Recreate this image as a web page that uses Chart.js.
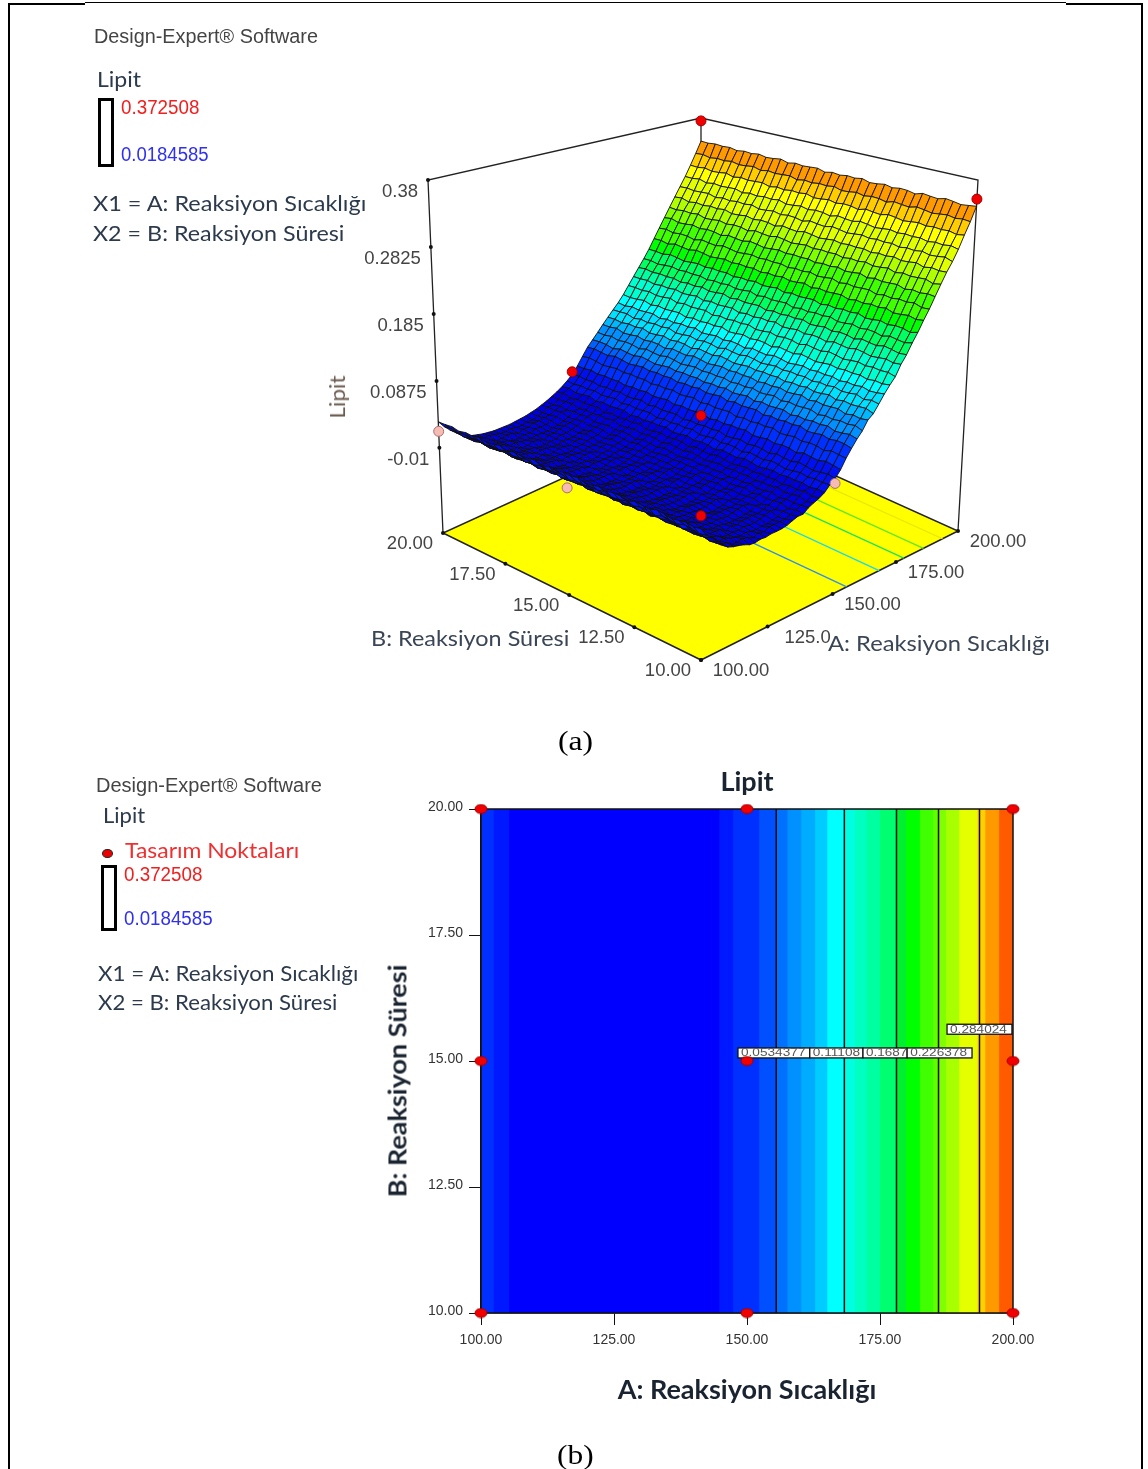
<!DOCTYPE html>
<html>
<head>
<meta charset="utf-8">
<title>Lipit</title>
<script src="https://cdn.jsdelivr.net/npm/chart.js@4"></script>
<style>
    html, body { margin: 0; padding: 0; background: #fff; }
    body { position: relative; width: 1148px; height: 1469px; overflow: hidden; }
    canvas { position: absolute; filter: blur(0.4px); }
    .edge { position: absolute; background: #000; }
    .txt { position: absolute; white-space: nowrap; line-height: 1; filter: blur(0.3px); }
    .scale-box { position: absolute; border: 3px solid #000; box-sizing: border-box; background: #fff; }
    .legend-dot { position: absolute; width: 11px; height: 9px; border-radius: 50%; background: #e00; border: 1.5px solid #222; box-sizing: border-box; }
</style>
</head>
<body>
<div class="edge" style="left:8px;top:3px;width:2px;height:1466px"></div>
<div class="edge" style="left:1141px;top:3px;width:2px;height:1466px"></div>
<div class="edge" style="left:8px;top:3px;width:77px;height:2px"></div>
<div class="edge" style="left:85px;top:2px;width:981px;height:1px"></div>
<div class="edge" style="left:1066px;top:3px;width:77px;height:2px"></div>
<div class="scale-box" style="left:98px;top:98px;width:16px;height:69px"></div>
<div class="scale-box" style="left:101px;top:865px;width:16px;height:66px"></div>
<div class="legend-dot" style="left:102px;top:849px"></div>
<canvas id="surfaceChart" width="720" height="590" style="left:340px;top:100px"></canvas>
<canvas id="contourChart" width="736" height="650" style="left:380px;top:760px"></canvas>

<script>
// Axis ticks
const aTicks = [100, 125, 150, 175, 200];
const bTicks = [10, 12.5, 15, 17.5, 20];
const zTicks = [0.38, 0.2825, 0.185, 0.0875, -0.01];
const aTickLabels3d = ['100.00', '125.0', '150.00', '175.00', '200.00'];
const bTickLabels3d = ['10.00', '12.50', '15.00', '17.50', '20.00'];

const lipitByA = [
    0.028, 0.018, 0.010, 0.003, -0.003, -0.008, -0.011, -0.013, -0.015, -0.016,
    -0.017, -0.017, -0.017, -0.017, -0.016, -0.015, -0.014, -0.012, -0.010, -0.007,
    -0.004, 0.000, 0.004, 0.009, 0.015, 0.022, 0.032, 0.044, 0.0556, 0.0645,
    0.0735, 0.083, 0.092, 0.101, 0.1097, 0.120, 0.132, 0.144, 0.156, 0.168,
    0.181, 0.196, 0.211, 0.226, 0.241, 0.256, 0.271, 0.286, 0.303, 0.321, 0.340
];
// Small ripple of the mesh along B
const rippleByB = [
    0.001, -0.0005, 0.0015, 0.000, -0.0015, 0.0005, 0.002, -0.001, 0.000, 0.0015,
    -0.002, 0.0005, 0.001, -0.001, 0.0015, -0.0005, -0.0015, 0.002, 0.000, 0.001,
    -0.001, 0.0005, -0.002, 0.0015, 0.0005, -0.0005, 0.001, -0.0015, 0.002, 0.000,
    -0.001, 0.0015, -0.0005, 0.0005, -0.0015, 0.001, 0.000
];
// Surface colour steps (upper Lipit limit of each step)
const surfaceLimits = [0.01, 0.03, 0.05, 0.065, 0.08, 0.095, 0.11, 0.125, 0.14, 0.16, 0.18, 0.20, 0.22, 0.24, 0.26, 0.28, 0.30, 0.32, 0.36];
const surfaceColors = ['#0000dc', '#0010f0', '#0030ff', '#0060ff', '#0090ff', '#00b8ff', '#00e0ff', '#00ffff', '#00ffd0', '#00ffa0', '#00ff60', '#00ff00', '#40ff00', '#80ff00', '#b0ff00', '#e0ff00', '#ffff00', '#ffcc00', '#ff9900'];

// Design points
const designA = [100, 100, 100, 150, 150, 150, 200, 200];
const designB = [10, 15, 20, 10, 15, 20, 10, 20];
const designLipit = [0.045, 0.010, 0.014, 0.015, 0.036, 0.026, 0.352, 0.375];
const designHidden = [false, true, true, true, false, false, false, false];

// Contour plot
const bandEdges = [100, 102.4, 105.3, 144.8, 147.4, 152.3, 155.5, 157.6, 160.2, 162.8, 165.1, 168.3, 170.3, 172.5, 175, 178.1, 179.9, 182.5, 185, 186, 187.4, 189.9, 193.2, 193.7, 194.8, 197.4];
const bandColors = ['#0030ff', '#0018ff', '#0000ff', '#0018ff', '#0030ff', '#0050ff', '#0070ff', '#0090ff', '#00acff', '#00ccff', '#00ffff', '#00ffe0', '#00ffc0', '#00ffa0', '#00ff70', '#00f030', '#00ff00', '#40ff00', '#60ff00', '#80ff00', '#a8ff00', '#e6ff00', '#ffe000', '#ffd000', '#ff9900', '#ff5a00'];
const contourA = [155.5, 168.3, 178.1, 186, 193.7];
const floorContourColors = ['#2f8fe8', '#19d8e8', '#20e060', '#60e820', '#e8e800'];
const contourLabels = ['0.0534377', '0.11108', '0.1687', '0.226378', '0.284024'];
const contourLabelFrom = [148.3, 161.8, 171.8, 180.1, 187.6];
const contourLabelTo = [161.8, 171.8, 180.1, 192.3, 199.8];
const contourLabelB = [15.16, 15.16, 15.16, 15.16, 15.63];
const gridA = [100, 150, 200];
const gridB = [10, 15, 20];

// Loose text: string, x of left end, y of middle, font, colour, target width
const SANS = '"Liberation Sans", Arial, sans-serif';
const LATO = 'Lato, sans-serif';
const SERIF = '"Liberation Serif", serif';
const textItems = [
    ['Design-Expert® Software', 94, 36, '20px ' + SANS, '#444', 224],
    ['Lipit', 97, 79, '22px ' + LATO, '#2c3a4c', 44],
    ['0.372508', 121, 107, '20px ' + SANS, '#f02020', 78],
    ['0.0184585', 121, 154, '20px ' + SANS, '#3030f0', 88],
    ['X1 = A: Reaksiyon Sıcaklığı', 93, 203, '22px ' + LATO, '#2c3a4c', 273],
    ['X2 = B: Reaksiyon Süresi', 93, 233, '22px ' + LATO, '#2c3a4c', 251],
    ['B: Reaksiyon Süresi', 371, 638, '22px ' + LATO, '#3a4656', 198],
    ['A: Reaksiyon Sıcaklığı', 828, 643, '22px ' + LATO, '#3a4656', 222],
    ['(a)', 558, 741, '28px ' + SERIF, '#000', 35],
    ['Design-Expert® Software', 96, 785, '20px ' + SANS, '#444', 226],
    ['Lipit', 103, 815, '22px ' + LATO, '#2c3a4c', 42],
    ['Tasarım Noktaları', 125, 850, '22px ' + LATO, '#f03030', 174],
    ['0.372508', 124, 874, '20px ' + SANS, '#f02020', 78],
    ['0.0184585', 124, 918, '20px ' + SANS, '#3030f0', 89],
    ['X1 = A: Reaksiyon Sıcaklığı', 98, 973, '22px ' + LATO, '#2c3a4c', 260],
    ['X2 = B: Reaksiyon Süresi', 98, 1002, '22px ' + LATO, '#2c3a4c', 239],
    ['(b)', 557, 1455, '28px ' + SERIF, '#000', 37]
];
// Rotated text: string, x of middle, y of middle, font, colour, target length
const rotatedItems = [
    ['Lipit', 337, 397, '22px ' + LATO, '#6a5a50', 43],
    ['B: Reaksiyon Süresi', 397, 1081, 'bold 24px ' + LATO, '#1a2430', 233]
];

textItems.forEach(function(item) {
    const el = document.createElement('div');
    el.className = 'txt';
    el.textContent = item[0];
    el.style.font = item[3];
    el.style.lineHeight = '1';
    el.style.color = item[4];
    document.body.appendChild(el);
    el.style.left = item[1] + 'px';
    el.style.top = (item[2] - el.offsetHeight / 2) + 'px';
    el.style.transformOrigin = '0 50%';
    el.style.transform = 'scaleX(' + (item[5] / el.offsetWidth) + ')';
});
rotatedItems.forEach(function(item) {
    const el = document.createElement('div');
    el.className = 'txt';
    el.textContent = item[0];
    el.style.font = item[3];
    el.style.lineHeight = '1';
    el.style.color = item[4];
    document.body.appendChild(el);
    el.style.left = (item[1] - el.offsetWidth / 2) + 'px';
    el.style.top = (item[2] - el.offsetHeight / 2) + 'px';
    el.style.transform = 'rotate(-90deg) scaleX(' + (item[5] / el.offsetWidth) + ')';
});

// Box corners on the page, used only by the 3D projection
const floorQuad = [[701, 660], [958, 531], [701, 415], [443, 533]];
const topQuad = [[701, 246], [978, 180], [701, 118], [428, 180]];
const zFloor = -0.134;
const zTop = 0.38;

function makeHomography(q) {
    const sx = q[0][0] - q[1][0] + q[2][0] - q[3][0];
    const sy = q[0][1] - q[1][1] + q[2][1] - q[3][1];
    const dx1 = q[1][0] - q[2][0], dx2 = q[3][0] - q[2][0];
    const dy1 = q[1][1] - q[2][1], dy2 = q[3][1] - q[2][1];
    const den = dx1 * dy2 - dx2 * dy1;
    const g = (sx * dy2 - dx2 * sy) / den;
    const h = (dx1 * sy - sx * dy1) / den;
    const a = q[1][0] - q[0][0] + g * q[1][0], b = q[3][0] - q[0][0] + h * q[3][0];
    const d = q[1][1] - q[0][1] + g * q[1][1], e = q[3][1] - q[0][1] + h * q[3][1];
    return function(u, v) {
        const w = g * u + h * v + 1;
        return [(a * u + b * v + q[0][0]) / w, (d * u + e * v + q[0][1]) / w];
    };
}
const floorMap = makeHomography(floorQuad);
const topMap = makeHomography(topQuad);

function project(a, b, z) {
    const u = (a - 100) / 100, v = (b - 10) / 10, t = (z - zFloor) / (zTop - zFloor);
    const f = floorMap(u, v), p = topMap(u, v);
    return { x: f[0] + (p[0] - f[0]) * t, y: f[1] + (p[1] - f[1]) * t };
}

function surfaceColor(z) {
    const idx = surfaceLimits.findIndex(function(lim) { return z < lim; });
    return surfaceColors[idx < 0 ? surfaceColors.length - 1 : idx];
}

// Fills a closed line dataset with dataset.polyFill, using the points the scales placed
const polygonFill = {
    id: 'polygonFill',
    beforeDatasetDraw(chart, args) {
        const ds = chart.data.datasets[args.index];
        const ctx = chart.ctx;
        if (ds.contourBoxes) drawContourBoxes(chart);
        if (!ds.polyFill) return;
        ctx.save();
        ctx.beginPath();
        args.meta.data.forEach(function(pt, i) {
            if (i === 0) ctx.moveTo(pt.x, pt.y); else ctx.lineTo(pt.x, pt.y);
        });
        ctx.closePath();
        ctx.fillStyle = ds.polyFill;
        ctx.fill();
        ctx.restore();
    }
};

function drawContourBoxes(chart) {
    const ctx = chart.ctx, x = chart.scales.x, y = chart.scales.y;
    ctx.save();
    contourLabels.forEach(function(text, i) {
        const left = x.getPixelForValue(contourLabelFrom[i]);
        const right = x.getPixelForValue(contourLabelTo[i]);
        const mid = y.getPixelForValue(contourLabelB[i]);
        ctx.fillStyle = '#fff';
        ctx.strokeStyle = '#111';
        ctx.lineWidth = 1.3;
        ctx.fillRect(left, mid - 5, right - left, 10);
        ctx.strokeRect(left, mid - 5, right - left, 10);
        ctx.save();
        ctx.translate(left + 3, mid + 0.5);
        ctx.scale(1.3, 1);
        ctx.font = '10.5px ' + SANS;
        ctx.fillStyle = '#555';
        ctx.textAlign = 'left';
        ctx.textBaseline = 'middle';
        ctx.fillText(text, 0, 0, (right - left - 3) / 1.3);
        ctx.restore();
    });
    ctx.restore();
}

// Tick labels of the 3D box, placed from the projected tick positions
const boxLabels = {
    id: 'boxLabels',
    afterDatasetsDraw(chart) {
        const ctx = chart.ctx, x = chart.scales.x, y = chart.scales.y;
        ctx.save();
        ctx.font = '18.5px ' + SANS;
        ctx.fillStyle = '#444';
        ctx.textBaseline = 'middle';
        function put(p, dx, dy, text, align) {
            ctx.textAlign = align;
            ctx.fillText(text, x.getPixelForValue(p.x) + dx, y.getPixelForValue(p.y) + dy);
        }
        zTicks.forEach(function(z) { put(project(100, 20, z), -10, 12, String(z), 'right'); });
        bTicks.forEach(function(b, i) { put(project(100, b, zFloor), -33, 11, bTickLabels3d[i], 'center'); });
        aTicks.forEach(function(a, i) { put(project(a, 10, zFloor), 40, 11, aTickLabels3d[i], 'center'); });
        ctx.restore();
    }
};

function markerImage(w, h, fill, stroke) {
    const c = document.createElement('canvas');
    c.width = w; c.height = h;
    const g = c.getContext('2d');
    g.beginPath();
    g.ellipse(w / 2, h / 2, w / 2 - 1, h / 2 - 1, 0, 0, Math.PI * 2);
    g.fillStyle = fill;
    g.fill();
    g.strokeStyle = stroke;
    g.lineWidth = 1;
    g.stroke();
    return c;
}

const lineDefaults = { showLine: true, pointRadius: 0, clip: false };

// ---- 3D surface ----
const surfaceSets = [];
function addSurfaceSet(ds) { surfaceSets.push(Object.assign({}, lineDefaults, ds)); }

// floor and its contour lines
addSurfaceSet({
    data: [project(100, 10, zFloor), project(200, 10, zFloor), project(200, 20, zFloor), project(100, 20, zFloor), project(100, 10, zFloor)],
    polyFill: '#ffff00', borderColor: '#222', borderWidth: 1.5
});
contourA.forEach(function(a, i) {
    addSurfaceSet({ data: [project(a, 10, zFloor), project(a, 20, zFloor)], borderColor: floorContourColors[i], borderWidth: 1.3 });
});
// box edges
addSurfaceSet({ data: [project(100, 20, zFloor), project(100, 20, zTop), project(200, 20, zTop), project(200, 10, zTop), project(200, 10, zFloor)], borderColor: '#222', borderWidth: 1.3 });
addSurfaceSet({ data: [project(200, 20, zTop), project(200, 20, 0.3)], borderColor: '#222', borderWidth: 1.3 });

// mesh, back corner first
for (let i = lipitByA.length - 2; i >= 0; i--) {
    for (let j = rippleByB.length - 1; j >= 0; j--) {
        const a0 = 100 + i * 2, a1 = a0 + 2;
        const b0 = 10 + j * 10 / rippleByB.length, b1 = 10 + (j + 1) * 10 / rippleByB.length;
        const nb = rippleByB.length;
        const z = function(ia, jb) {
            const edge = jb === nb ? 0 : rippleByB[(jb + 3 * ia) % nb];
            return lipitByA[ia] + edge;
        };
        addSurfaceSet({
            data: [
                project(a0, b0, z(i, j)), project(a1, b0, z(i + 1, j)),
                project(a1, b1, z(i + 1, j + 1)), project(a0, b1, z(i, j + 1)), project(a0, b0, z(i, j))
            ],
            polyFill: surfaceColor((lipitByA[i] + lipitByA[i + 1]) / 2),
            borderColor: '#101010', borderWidth: 0.9
        });
    }
}

// tick dots
const tickDots = []
    .concat(zTicks.map(function(z) { return project(100, 20, z); }))
    .concat(bTicks.map(function(b) { return project(100, b, zFloor); }))
    .concat(aTicks.map(function(a) { return project(a, 10, zFloor); }));
addSurfaceSet({ data: tickDots, showLine: false, pointRadius: 2, pointBackgroundColor: '#111', pointBorderWidth: 0 });
// design points
addSurfaceSet({
    data: designA.map(function(a, i) { return project(a, designB[i], designLipit[i]); }),
    showLine: false, pointRadius: 5,
    pointBackgroundColor: designHidden.map(function(h) { return h ? '#f6bcb4' : '#f00000'; }),
    pointBorderColor: designHidden.map(function(h) { return h ? '#a87070' : '#a00000'; }),
    pointBorderWidth: 1
});
surfaceSets.forEach(function(ds, i) { ds.order = surfaceSets.length - i; });

new Chart(document.getElementById('surfaceChart'), {
    type: 'scatter',
    data: { datasets: surfaceSets },
    plugins: [polygonFill, boxLabels],
    options: {
        responsive: false,
        animation: false,
        events: [],
        layout: { padding: 0, autoPadding: false },
        plugins: { legend: { display: false }, tooltip: { enabled: false }, title: { display: false } },
        scales: {
            // the scales run in page pixels of the projected box
            x: { type: 'linear', display: false, min: 340, max: 1060 },
            y: { type: 'linear', display: false, min: 100, max: 690, reverse: true }
        }
    }
});

// ---- Contour plot ----
const contourSets = [];
function addContourSet(ds) { contourSets.push(Object.assign({}, lineDefaults, ds)); }

bandEdges.forEach(function(edge, i) {
    addContourSet({
        data: [{ x: edge, y: 10 }, { x: 200, y: 10 }, { x: 200, y: 20 }, { x: edge, y: 20 }],
        polyFill: bandColors[i], borderWidth: 0
    });
});
contourA.forEach(function(a) {
    addContourSet({ data: [{ x: a, y: 10 }, { x: a, y: 20 }], borderColor: '#0a0a0a', borderWidth: 1.5 });
});
addContourSet({
    data: [{ x: 100, y: 10 }, { x: 200, y: 10 }, { x: 200, y: 20 }, { x: 100, y: 20 }, { x: 100, y: 10 }],
    borderColor: '#111', borderWidth: 1.5
});
const gridPoints = [];
gridA.forEach(function(a) { gridB.forEach(function(b) { gridPoints.push({ x: a, y: b }); }); });
addContourSet({
    data: gridPoints, showLine: false, contourBoxes: true,
    pointRadius: 6, pointStyle: markerImage(14, 11, '#f00000', '#a00000')
});
contourSets.forEach(function(ds, i) { ds.order = contourSets.length - i; });

new Chart(document.getElementById('contourChart'), {
    type: 'scatter',
    data: { datasets: contourSets },
    plugins: [polygonFill],
    options: {
        responsive: false,
        animation: false,
        events: [],
        layout: { padding: { right: 103 }, autoPadding: false },
        plugins: {
            legend: { display: false },
            tooltip: { enabled: false },
            title: {
                display: true,
                fullSize: false,
                text: 'Lipit',
                color: '#1a2430',
                font: { family: 'Lato', size: 27, weight: 'bold', lineHeight: 1.2 },
                padding: { top: 6, bottom: 10.6 }
            }
        },
        scales: {
            x: {
                type: 'linear', min: 100, max: 200,
                afterBuildTicks(scale) { scale.ticks = aTicks.map(function(v) { return { value: v }; }); },
                afterFit(scale) { scale.height = 97; },
                grid: { drawOnChartArea: false, drawTicks: true, tickLength: 12, color: '#111' },
                border: { color: '#111', width: 1.5 },
                ticks: {
                    color: '#333', padding: 7, maxRotation: 0, autoSkip: false,
                    font: { family: 'Liberation Sans', size: 14 },
                    callback(v) { return v.toFixed(2); }
                },
                title: {
                    display: true,
                    text: 'A: Reaksiyon Sıcaklığı',
                    color: '#1a2430',
                    font: { family: 'Lato', size: 27, weight: 'bold', lineHeight: 1.2 },
                    padding: { top: 0, bottom: 4 }
                }
            },
            y: {
                type: 'linear', min: 10, max: 20,
                afterBuildTicks(scale) { scale.ticks = bTicks.map(function(v) { return { value: v }; }); },
                afterFit(scale) { scale.width = 101; },
                grid: { drawOnChartArea: false, drawTicks: true, tickLength: 12, color: '#111' },
                border: { color: '#111', width: 1.5 },
                ticks: {
                    color: '#333', padding: 6, autoSkip: false, labelOffset: -2,
                    font: { family: 'Liberation Sans', size: 14 },
                    callback(v) { return v.toFixed(2); }
                }
            }
        }
    }
});
</script>
</body>
</html>
